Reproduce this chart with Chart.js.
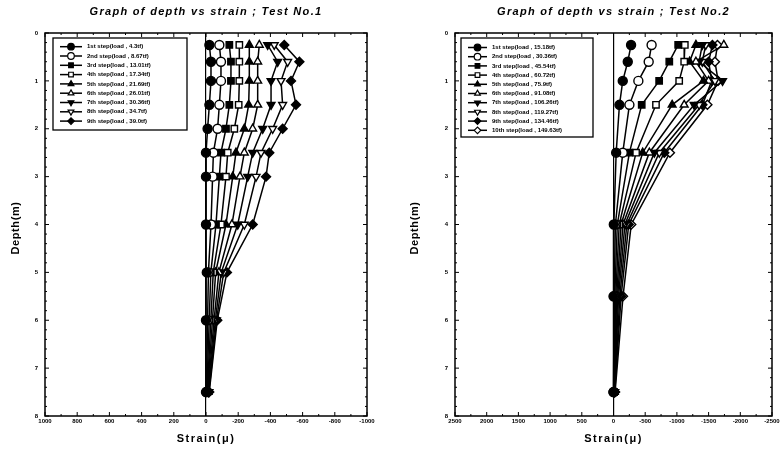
<!DOCTYPE html>
<html>
<head>
<meta charset="utf-8">
<script src="https://cdn.jsdelivr.net/npm/chart.js@4.4.0/dist/chart.umd.min.js"></script>
<style>
  body { margin: 0; background: #fff; }
  canvas { position: absolute; top: 0; }
</style>
</head>
<body>
<canvas id="test1" width="391" height="452" style="left:0"></canvas>
<canvas id="test2" width="391" height="452" style="left:391px"></canvas>
<script>
// depth (m) of each gauge, strain in micro units (negative = compression)
const depthsTest1 = [0.25, 0.6, 1.0, 1.5, 2.0, 2.5, 3.0, 4.0, 5.0, 6.0, 7.5];
const loadsTest1 = ['4.3', '8.67', '13.01', '17.34', '21.69', '26.01', '30.36', '34.7', '39.0'];
const step1Test1 = [-21, -31, -31, -21, -10, 0, 0, 0, -5, 0, 0];
const step2Test1 = [-83, -93, -93, -83, -72, -46, -41, -31, -15, -10, -3];
const step3Test1 = [-145, -155, -155, -145, -124, -93, -83, -62, -30, -20, -5];
const step4Test1 = [-207, -207, -207, -203, -176, -135, -124, -93, -45, -30, -8];
const step5Test1 = [-269, -269, -269, -265, -238, -186, -166, -124, -60, -40, -10];
const step6Test1 = [-331, -321, -321, -321, -290, -238, -211, -161, -80, -50, -12];
const step7Test1 = [-383, -445, -404, -404, -352, -290, -259, -197, -95, -58, -15];
const step8Test1 = [-424, -507, -466, -476, -414, -342, -311, -238, -110, -65, -18];
const step9Test1 = [-486, -580, -528, -559, -476, -393, -373, -290, -130, -70, -20];

const depthsTest2 = [0.25, 0.6, 1.0, 1.5, 2.5, 4.0, 5.5, 7.5];
const loadsTest2 = ['15.18', '30.36', '45.54', '60.72', '75.9', '91.08', '106.26', '119.27', '134.46', '149.63'];
const step1Test2 = [-277, -225, -146, -94, -42, -5, 0, 0];
const step2Test2 = [-601, -555, -392, -251, -146, -30, -10, 0];
const step3Test2 = [-1020, -880, -720, -445, -251, -60, -20, -5];
const step4Test2 = [-1125, -1115, -1036, -670, -356, -90, -35, -8];
const step5Test2 = [-1300, -1200, -1420, -925, -460, -120, -50, -10];
const step6Test2 = [-1740, -1300, -1500, -1115, -565, -150, -65, -12];
const step7Test2 = [-1400, -1350, -1720, -1272, -644, -180, -80, -15];
const step8Test2 = [-1455, -1400, -1600, -1350, -722, -210, -100, -18];
const step9Test2 = [-1560, -1500, -1550, -1402, -801, -240, -120, -20];
const step10Test2 = [-1640, -1600, -1650, -1481, -890, -280, -150, -25];

const ordinals = ['1st', '2nd', '3rd', '4th', '5th', '6th', '7th', '8th', '9th', '10th'];

const FONT = '"Liberation Sans", Arial, sans-serif';
Chart.defaults.font.family = FONT;
Chart.defaults.color = '#000';

const markers = [
  { style: 'circle', fill: true },
  { style: 'circle', fill: false },
  { style: 'rect', fill: true },
  { style: 'rect', fill: false },
  { style: 'triangle', fill: true },
  { style: 'triangle', fill: false },
  { style: 'triangle', fill: true, rot: 180 },
  { style: 'triangle', fill: false, rot: 180 },
  { style: 'rectRot', fill: true },
  { style: 'rectRot', fill: false }
];

function makeDatasets(depths, series, loads) {
  return series.map((vals, i) => ({
    label: ordinals[i] + ' step(load , ' + loads[i] + 'tf)',
    data: vals.map((v, j) => ({ x: v, y: depths[j] })),
    showLine: true,
    borderColor: '#000',
    borderWidth: 1.5,
    pointStyle: markers[i].style,
    pointRotation: markers[i].rot || 0,
    pointRadius: 4.5,
    pointHoverRadius: 4.5,
    pointBorderWidth: 1.4,
    pointBorderColor: '#000',
    pointBackgroundColor: markers[i].fill ? '#000' : '#fff'
  }));
}

function marker(ctx, m, x, y, r) {
  ctx.fillStyle = m.fill ? '#000' : '#fff';
  ctx.strokeStyle = '#000';
  ctx.lineWidth = 1.2;
  Chart.helpers.drawPoint(ctx, { pointStyle: m.style, radius: r, rotation: m.rot || 0, borderWidth: 1.2 }, x, y);
}

// frame with inward ticks, titles and the boxed legend
const decorations = {
  id: 'decorations',
  afterDraw(chart, args, o) {
    const { ctx, chartArea: a, scales: { x, y } } = chart;
    ctx.save();
    ctx.strokeStyle = '#000';
    ctx.lineWidth = 1.5;
    ctx.strokeRect(a.left, a.top, a.right - a.left, a.bottom - a.top);

    ctx.lineWidth = 1;
    ctx.beginPath();
    for (let v = x.min; v <= x.max + 1e-6; v += o.xMinor) {
      const px = x.getPixelForValue(v);
      const len = Math.abs(v % o.xStep) < 1e-6 ? 4 : 2;
      ctx.moveTo(px, a.bottom); ctx.lineTo(px, a.bottom - len);
      ctx.moveTo(px, a.top); ctx.lineTo(px, a.top + len);
    }
    for (let v = 0; v <= 8.0001; v += 0.2) {
      const py = y.getPixelForValue(v);
      const len = Math.abs(v - Math.round(v)) < 1e-6 ? 4 : 2;
      ctx.moveTo(a.left, py); ctx.lineTo(a.left + len, py);
      ctx.moveTo(a.right, py); ctx.lineTo(a.right - len, py);
    }
    ctx.stroke();

    ctx.fillStyle = '#000';
    ctx.textAlign = 'center';
    ctx.textBaseline = 'middle';
    ctx.letterSpacing = '1.3px';
    ctx.font = 'italic bold 11px ' + FONT;
    ctx.fillText(o.title, (a.left + a.right) / 2, 12);
    ctx.letterSpacing = '1.5px';
    ctx.font = 'bold 11px ' + FONT;
    ctx.fillText('Strain(\u03bc)', (a.left + a.right) / 2, 439);
    ctx.letterSpacing = '0.6px';
    ctx.translate(o.yTitleX, 228);
    ctx.rotate(-Math.PI / 2);
    ctx.fillText('Depth(m)', 0, 0);
    ctx.restore();

    // legend
    const L = o.legend;
    const bx = a.left + L.dx, by = a.top + 5;
    ctx.save();
    ctx.fillStyle = '#fff';
    ctx.fillRect(bx, by, L.w, L.h);
    ctx.strokeStyle = '#000';
    ctx.lineWidth = 1.3;
    ctx.strokeRect(bx, by, L.w, L.h);
    ctx.font = 'bold 6px ' + FONT;
    ctx.textBaseline = 'middle';
    chart.data.datasets.forEach((ds, i) => {
      const ly = by + L.first + i * L.gap;
      ctx.strokeStyle = '#000';
      ctx.lineWidth = 1.5;
      ctx.beginPath();
      ctx.moveTo(bx + 7, ly); ctx.lineTo(bx + 7 + L.line, ly);
      ctx.stroke();
      marker(ctx, markers[i], bx + 7 + L.line / 2, ly, 3.3);
      ctx.fillStyle = '#000';
      ctx.fillText(ds.label, bx + L.line + 12, ly);
    });
    ctx.restore();
  }
};

function makeChart(id, depths, series, loads, cfg) {
  return new Chart(document.getElementById(id), {
    type: 'scatter',
    data: { datasets: makeDatasets(depths, series, loads) },
    options: {
      responsive: false,
      animation: false,
      events: [],
      layout: { padding: { top: 33, right: cfg.padRight, bottom: 0, left: 0 } },
      plugins: {
        legend: { display: false },
        title: { display: false },
        tooltip: { enabled: false },
        decorations: {
          title: cfg.title,
          xStep: cfg.xStep,
          xMinor: cfg.xStep / 2,
          yTitleX: cfg.yTitleX,
          legend: cfg.legend
        }
      },
      scales: {
        x: {
          type: 'linear',
          min: -cfg.xMax,
          max: cfg.xMax,
          reverse: true,
          afterFit(s) { s.height = 36; },
          border: { display: false },
          grid: {
            drawTicks: false,
            color: c => (c.tick && c.tick.value === 0 ? '#000' : 'rgba(0,0,0,0)'),
            lineWidth: 1.2
          },
          ticks: {
            stepSize: cfg.xStep, padding: 2, maxRotation: 0, autoSkip: false,
            font: { size: 6, weight: 'bold' },
            callback: v => String(v)
          }
        },
        y: {
          min: 0,
          max: 8,
          reverse: true,
          afterFit(s) { s.width = cfg.yWidth; },
          border: { display: false },
          grid: { display: false, drawTicks: false },
          ticks: { stepSize: 1, padding: 7, font: { size: 6, weight: 'bold' }, callback: v => String(v) }
        }
      }
    },
    plugins: [decorations]
  });
}

makeChart('test1', depthsTest1,
  [step1Test1, step2Test1, step3Test1, step4Test1, step5Test1, step6Test1, step7Test1, step8Test1, step9Test1],
  loadsTest1,
  {
    title: 'Graph of depth vs strain ; Test No.1',
    xMax: 1000, xStep: 200, padRight: 24, yWidth: 45, yTitleX: 16,
    legend: { dx: 8, w: 134, h: 92, first: 8.7, gap: 9.3, line: 22 }
  });

makeChart('test2', depthsTest2,
  [step1Test2, step2Test2, step3Test2, step4Test2, step5Test2, step6Test2, step7Test2, step8Test2, step9Test2, step10Test2],
  loadsTest2,
  {
    title: 'Graph of depth vs strain ; Test No.2',
    xMax: 2500, xStep: 500, padRight: 10, yWidth: 64, yTitleX: 24,
    legend: { dx: 6, w: 132, h: 99, first: 9.5, gap: 9.2, line: 19 }
  });
</script>
</body>
</html>
